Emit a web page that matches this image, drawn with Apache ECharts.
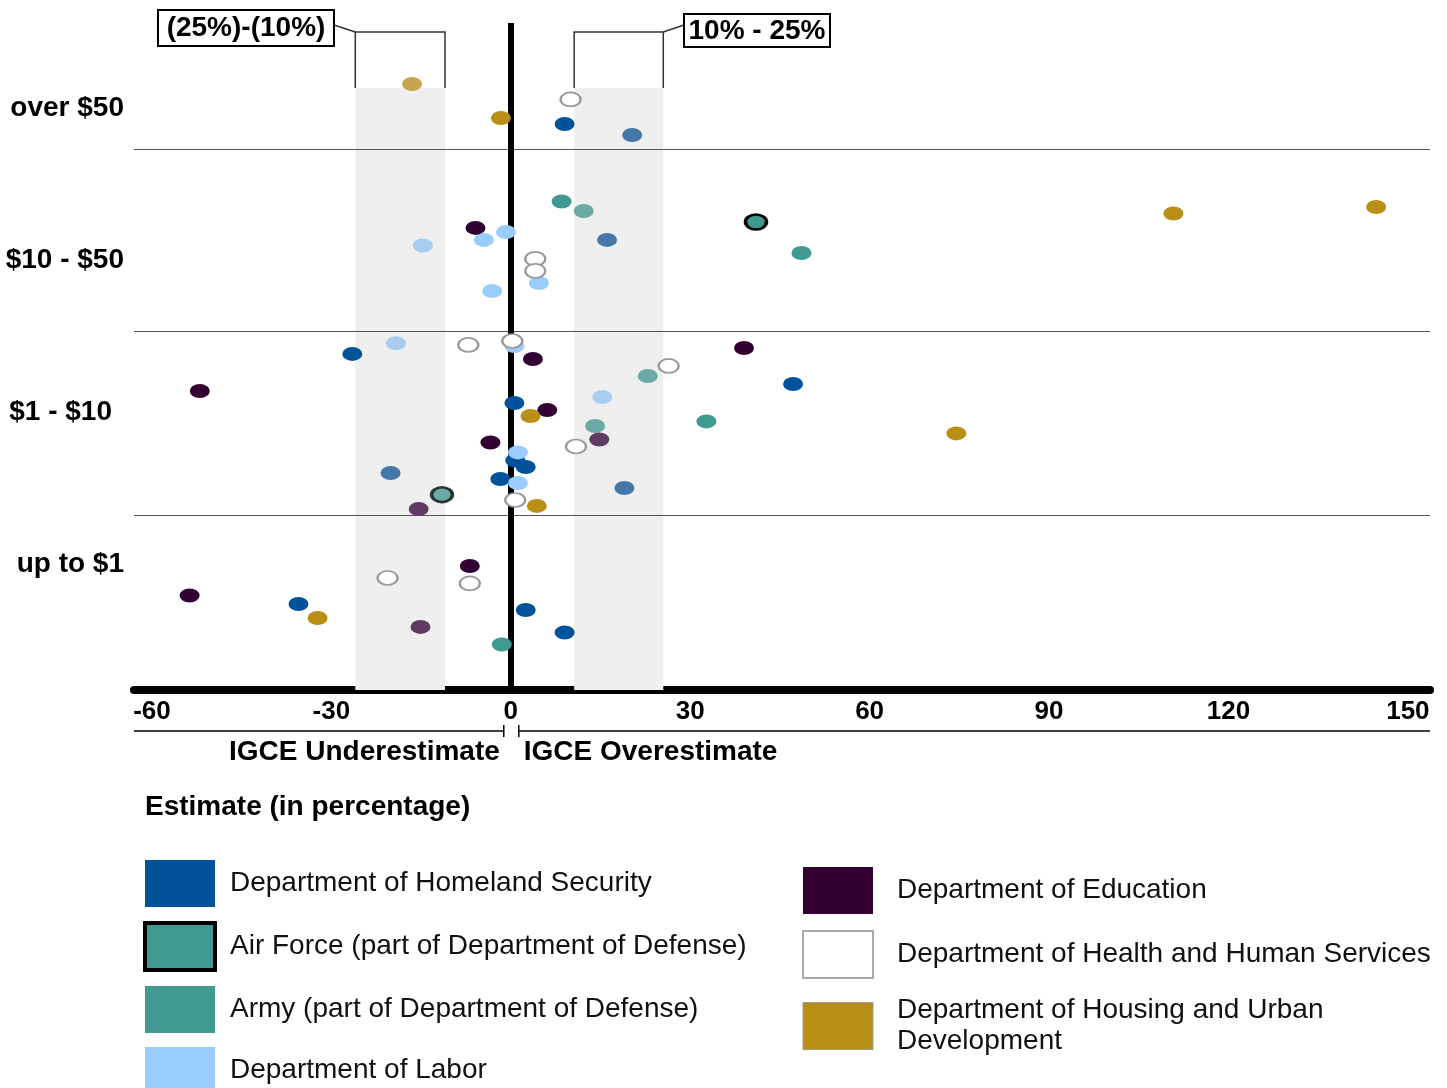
<!DOCTYPE html>
<html><head><meta charset="utf-8">
<script src="https://cdn.jsdelivr.net/npm/echarts@6/dist/echarts.min.js"></script>
<style>html,body{margin:0;padding:0;background:#fff}#c{width:1447px;height:1088px}</style>
</head><body><div id="c"></div><script>
// ---- data ----
const xTickValues = [-60, -30, 0, 30, 60, 90, 120, 150];
const sizeCategories = ['up to $1', '$1 - $10', '$10 - $50', 'over $50']; // at y = 0,1,2,3
const bandDividers = [0.316, 1.526, 2.73];
const underRange = [-26, -11];   // (25%)-(10%)
const overRange = [10.6, 25.5];  // 10% - 25%
// [estimate %, vertical position within size band, faded]
const homelandSecurity = [[9.0,2.895,0],[20.3,2.822,1],[16.1,2.132,1],[-26.5,1.382,0],[47.2,1.184,0],[0.6,1.059,0],[0.75,0.681,0],[2.5,0.638,0],[-20.1,0.599,1],[-1.75,0.559,0],[19.0,0.5,1],[-35.5,-0.263,0],[2.5,-0.303,0],[9.0,-0.451,0]];
const airForce = [[41.0,2.25,0],[-11.5,0.456,1]];
const army = [[8.5,2.385,0],[12.2,2.322,1],[48.6,2.046,0],[22.9,1.237,1],[32.7,0.938,0],[14.1,0.908,1],[-1.5,-0.53,0]];
const labor = [[-0.8,2.184,0],[-4.5,2.132,0],[-14.7,2.095,1],[4.7,1.849,0],[-3.1,1.796,0],[-19.2,1.452,1],[0.6,1.434,0],[15.3,1.099,1],[1.2,0.734,0],[1.2,0.533,0]];
const education = [[-5.9,2.211,0],[3.7,1.349,0],[39.0,1.421,0],[-52.0,1.138,0],[6.1,1.013,0],[14.8,0.819,1],[-3.4,0.799,0],[-15.4,0.362,1],[-6.85,-0.013,0],[-53.7,-0.207,0],[-15.1,-0.414,1]];
const healthHuman = [[10.0,3.056,0],[4.1,2.007,0],[4.1,1.928,0],[0.25,1.467,0],[-7.1,1.441,0],[26.4,1.303,0],[10.9,0.773,0],[0.75,0.421,0],[-20.6,-0.092,0],[-6.85,-0.128,0]];
const housingUrban = [[-16.5,3.158,1],[-1.65,2.934,0],[110.8,2.306,0],[144.7,2.349,0],[3.3,0.974,0],[74.5,0.859,0],[4.35,0.382,0],[-32.3,-0.355,0]];

const N_DHS = 'Department of Homeland Security';
const N_AF = 'Air Force (part of Department of Defense)';
const N_ARMY = 'Army (part of Department of Defense)';
const N_LAB = 'Department of Labor';
const N_EDU = 'Department of Education';
const N_HHS = 'Department of Health and Human Services';
const N_HUD = 'Department of Housing and Urban Development';

const FONT = "'Liberation Sans', Arial, Helvetica, sans-serif";
const X_MIN = -63, X_MAX = 153.7, Y_MIN = -0.829, Y_MAX = 3.559;

function mk(name, arr, base, faded, size) {
  return {
    type: 'scatter', name, z: 5, symbol: 'circle', symbolSize: size || [20, 14],
    silent: true,
    itemStyle: { opacity: 1 },
    data: arr.map(d => ({ value: [d[0], d[1]], itemStyle: Object.assign({ opacity: 1 }, d[2] ? faded : base) }))
  };
}

const series = [
  {
    type: 'scatter', name: 'helper', data: [], z: 1, silent: true,
    markArea: {
      silent: true,
      itemStyle: { color: '#efefef', opacity: 1 },
      data: [
        [{ xAxis: underRange[0], yAxis: Y_MIN }, { xAxis: underRange[1], yAxis: 3.132 }],
        [{ xAxis: overRange[0], yAxis: Y_MIN }, { xAxis: overRange[1], yAxis: 3.132 }]
      ]
    },
    markLine: {
      silent: true, symbol: ['none', 'none'], label: { show: false },
      data: bandDividers.map(v => ({ yAxis: v, lineStyle: { color: '#555', width: 1, type: 'solid' } }))
        .concat([{ xAxis: 0, lineStyle: { color: '#000', width: 6, type: 'solid' } }])
    }
  },
  mk(N_DHS, homelandSecurity, { color: '#00539b' }, { color: '#4677a9' }),
  mk(N_AF, airForce, { color: '#409a92', borderColor: '#000', borderWidth: 3 }, { color: '#69aaa5', borderColor: 'rgba(0,0,0,0.75)', borderWidth: 3 }, [21, 15]),
  mk(N_ARMY, army, { color: '#409a92' }, { color: '#69aaa5' }),
  mk(N_LAB, labor, { color: '#99ccff' }, { color: '#a8cdf0' }),
  mk(N_EDU, education, { color: '#330033' }, { color: '#5f3b62' }),
  mk(N_HHS, healthHuman, { color: '#fff', borderColor: '#999', borderWidth: 2 }, { color: '#fff', borderColor: '#999', borderWidth: 2 }),
  mk(N_HUD, housingUrban, { color: '#b98f15' }, { color: '#c8a450' })
];

const chart = echarts.init(document.getElementById('c'), null, { renderer: 'canvas' });
const legendText = { fontSize: 28, fontFamily: FONT, color: '#111' };
chart.setOption({
  animation: false,
  backgroundColor: '#fff',
  grid: { left: 134, right: 17, top: 23, bottom: 398, containLabel: false },
  xAxis: {
    type: 'value', min: X_MIN, max: X_MAX,
    axisLine: { show: true, onZero: false, lineStyle: { color: '#000', width: 8 } },
    axisTick: { show: false },
    splitLine: { show: false },
    axisLabel: {
      customValues: xTickValues, margin: 9,
      fontSize: 26, fontWeight: 'bold', fontFamily: FONT, color: '#000'
    }
  },
  yAxis: {
    type: 'value', min: Y_MIN, max: Y_MAX,
    axisLine: { show: false }, axisTick: { show: false }, splitLine: { show: false },
    axisLabel: {
      customValues: [0, 1, 2, 3], margin: 10,
      formatter: v => {
        const i = Math.round(v);
        return i === 1 ? '{s|' + sizeCategories[i] + '}' : sizeCategories[i];
      },
      rich: { s: { fontSize: 28, fontWeight: 'bold', fontFamily: FONT, color: '#000', padding: [0, 12, 0, 0] } },
      fontSize: 28, fontWeight: 'bold', fontFamily: FONT, color: '#000'
    }
  },
  legend: [
    {
      left: 138, top: 855, height: 260, orient: 'vertical', icon: 'rect', itemWidth: 70, itemHeight: 47, itemGap: 14,
      selectedMode: false,
      textStyle: Object.assign({ padding: [0, 0, 0, 10] }, legendText),
      data: [
        { name: N_DHS, itemStyle: { color: '#00539b', borderWidth: 0, opacity: 1 } },
        { name: N_AF, itemStyle: { color: '#409a92', borderColor: '#000', borderWidth: 4, opacity: 1 } },
        { name: N_ARMY, itemStyle: { color: '#409a92', borderWidth: 0, opacity: 1 } },
        { name: N_LAB, itemStyle: { color: '#99ccff', borderWidth: 0, opacity: 1 } }
      ]
    },
    {
      left: 797, top: 862, height: 260, orient: 'vertical', icon: 'rect', itemWidth: 70, itemHeight: 47, itemGap: 16,
      selectedMode: false,
      formatter: n => n === N_HUD ? 'Department of Housing and Urban\nDevelopment' : n,
      textStyle: Object.assign({ padding: [0, 0, 0, 19], lineHeight: 31 }, legendText),
      data: [
        { name: N_EDU, itemStyle: { color: '#330033', borderWidth: 0, opacity: 1 } },
        { name: N_HHS, itemStyle: { color: '#fff', borderColor: '#aaa', borderWidth: 2, opacity: 1 } },
        { name: N_HUD, itemStyle: { color: '#b98f15', borderColor: '#999', borderWidth: 1, opacity: 1 } }
      ]
    }
  ],
  series
});

// ---- annotations positioned from the axes ----
const px = x => chart.convertToPixel({ gridIndex: 0 }, [x, 0])[0];
const zx = px(0);
const u1 = px(underRange[0]), u2 = px(underRange[1]), o1 = px(overRange[0]), o2 = px(overRange[1]);
const gridLeft = 134, gridRight = 1447 - 17;
const stroke = { stroke: '#333', lineWidth: 1.5, fill: null };
const boldText = { fontSize: 28, fontWeight: 'bold', fontFamily: FONT, fill: '#000' };
chart.setOption({
  graphic: [
    { type: 'polyline', shape: { points: [[u1, 88], [u1, 32], [u2, 32], [u2, 88]] }, style: stroke, z: 10 },
    { type: 'line', shape: { x1: 334, y1: 25, x2: u1, y2: 32 }, style: stroke, z: 10 },
    { type: 'rect', shape: { x: 158, y: 10, width: 176, height: 36 }, style: { fill: '#fff', stroke: '#000', lineWidth: 2 }, z: 10 },
    { type: 'text', x: 246, y: 28, style: Object.assign({ text: '(25%)-(10%)', align: 'center', verticalAlign: 'middle' }, boldText), z: 11 },
    { type: 'polyline', shape: { points: [[o1, 88], [o1, 32], [o2, 32], [o2, 88]] }, style: stroke, z: 10 },
    { type: 'line', shape: { x1: o2, y1: 32, x2: 684, y2: 25 }, style: stroke, z: 10 },
    { type: 'rect', shape: { x: 684, y: 14, width: 146, height: 33 }, style: { fill: '#fff', stroke: '#000', lineWidth: 2 }, z: 10 },
    { type: 'text', x: 757, y: 31, style: Object.assign({ text: '10% - 25%', align: 'center', verticalAlign: 'middle' }, boldText), z: 11 },
    // under / over bracket below axis
    { type: 'line', shape: { x1: gridLeft, y1: 731, x2: zx - 7, y2: 731 }, style: { stroke: '#000', lineWidth: 1.5 } },
    { type: 'line', shape: { x1: zx - 7, y1: 725, x2: zx - 7, y2: 737 }, style: { stroke: '#000', lineWidth: 1.5 } },
    { type: 'line', shape: { x1: zx + 8, y1: 731, x2: gridRight, y2: 731 }, style: { stroke: '#000', lineWidth: 1.5 } },
    { type: 'line', shape: { x1: zx + 8, y1: 725, x2: zx + 8, y2: 737 }, style: { stroke: '#000', lineWidth: 1.5 } },
    { type: 'text', x: zx - 11, y: 752, style: { text: 'IGCE Underestimate', align: 'right', verticalAlign: 'middle', fontSize: 28, fontWeight: 'bold', fontFamily: FONT, fill: '#000' } },
    { type: 'text', x: zx + 13, y: 752, style: { text: 'IGCE Overestimate', align: 'left', verticalAlign: 'middle', fontSize: 28, fontWeight: 'bold', fontFamily: FONT, fill: '#000' } },
    { type: 'text', x: 145, y: 807, style: { text: 'Estimate (in percentage)', align: 'left', verticalAlign: 'middle', fontSize: 28, fontWeight: 'bold', fontFamily: FONT, fill: '#000' } }
  ]
});
</script></body></html>
